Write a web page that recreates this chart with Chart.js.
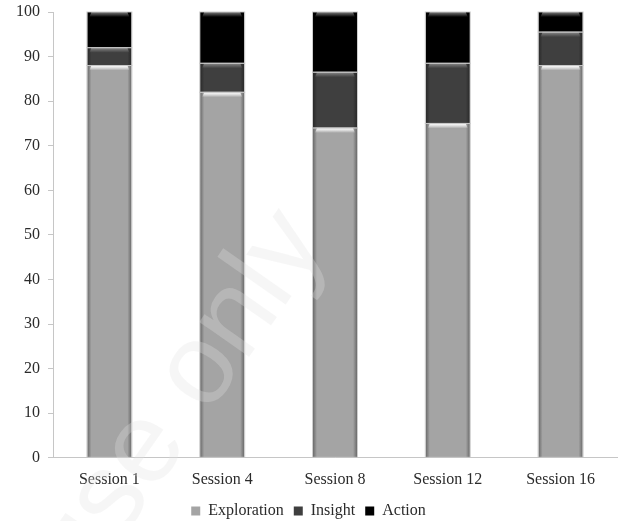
<!DOCTYPE html>
<html>
<head>
<meta charset="utf-8">
<script src="https://cdn.jsdelivr.net/npm/chart.js@4.4.1/dist/chart.umd.min.js"></script>
<style>
  html, body { margin: 0; padding: 0; background: #ffffff; }
  #wrap { width: 620px; height: 521px; position: relative; }
</style>
</head>
<body>
<div id="wrap"><canvas id="c" width="620" height="521"></canvas></div>
<script>
// Categories and stacked shares (percent) per session
const sessions = ['Session 1', 'Session 4', 'Session 8', 'Session 12', 'Session 16'];
const exploration = [88, 82, 74, 75, 88];
const insight = [4, 6.5, 12.5, 13.5, 7.5];
const action = [8, 11.5, 13.5, 11.5, 4.5];
const yTicks = [0, 10, 20, 30, 40, 50, 60, 70, 80, 90, 100];

const SERIF = "'Liberation Serif', 'Times New Roman', serif";
const TEXT = '#2b2b2b';

// Bevel-style shading drawn on top of each bar segment
const bevelPlugin = {
  id: 'bevel',
  afterDatasetsDraw(chart) {
    const ctx = chart.ctx;
    chart.data.datasets.forEach((ds, di) => {
      const meta = chart.getDatasetMeta(di);
      meta.data.forEach(bar => {
        const p = bar.getProps(['x', 'y', 'base', 'width'], true);
        const left = p.x - p.width / 2, right = p.x + p.width / 2;
        const top = Math.min(p.y, p.base), bottom = Math.max(p.y, p.base);
        const h = bottom - top;
        ctx.save();
        // side shading
        let g = ctx.createLinearGradient(left, 0, left + 4, 0);
        g.addColorStop(0, 'rgba(0,0,0,0.35)');
        g.addColorStop(1, 'rgba(0,0,0,0)');
        ctx.fillStyle = g;
        ctx.fillRect(left, top, 4, h);
        g = ctx.createLinearGradient(right - 4, 0, right, 0);
        g.addColorStop(0, 'rgba(0,0,0,0)');
        g.addColorStop(1, 'rgba(0,0,0,0.35)');
        ctx.fillStyle = g;
        ctx.fillRect(right - 4, top, 4, h);
        // top highlight
        const hh = Math.min(5, h);
        g = ctx.createLinearGradient(0, top, 0, top + hh);
        if (di === 0) {
          g.addColorStop(0, 'rgba(255,255,255,1)');
          g.addColorStop(0.5, 'rgba(255,255,255,0.6)');
          g.addColorStop(1, 'rgba(255,255,255,0)');
        } else {
          g.addColorStop(0, 'rgba(150,150,150,0.85)');
          g.addColorStop(1, 'rgba(150,150,150,0)');
        }
        ctx.fillStyle = g;
        ctx.beginPath();
        ctx.moveTo(left + 2, top + hh);
        ctx.lineTo(left + 4, top);
        ctx.lineTo(right - 4, top);
        ctx.lineTo(right - 2, top + hh);
        ctx.closePath();
        ctx.fill();
        // light outline
        ctx.strokeStyle = 'rgba(200,200,200,0.9)';
        ctx.lineWidth = 1;
        ctx.strokeRect(left - 0.5, top, p.width + 1, h);
        ctx.restore();
      });
    });
  }
};

// Faint diagonal watermark text
const watermarkPlugin = {
  id: 'watermark',
  afterDraw(chart) {
    const ctx = chart.ctx;
    ctx.save();
    ctx.translate(180, 400);
    ctx.rotate(-55 * Math.PI / 180);
    ctx.font = "115px 'Liberation Sans', Arial, sans-serif";
    ctx.fillStyle = 'rgba(225,225,225,0.3)';
    ctx.textAlign = 'center';
    ctx.textBaseline = 'middle';
    ctx.fillText('use only', 0, 0);
    ctx.restore();
  }
};

new Chart(document.getElementById('c'), {
  type: 'bar',
  data: {
    labels: sessions,
    datasets: [
      { label: 'Exploration', data: exploration, backgroundColor: '#a4a4a4' },
      { label: 'Insight', data: insight, backgroundColor: '#3f3f3f' },
      { label: 'Action', data: action, backgroundColor: '#000000' }
    ]
  },
  options: {
    responsive: false,
    animation: false,
    devicePixelRatio: 1,
    layout: { padding: { top: 12, right: 3, left: 0, bottom: -8 } },
    datasets: { bar: { categoryPercentage: 1, barPercentage: 0.39, borderWidth: 0 } },
    plugins: {
      tooltip: { enabled: false },
      legend: {
        position: 'bottom',
        labels: {
          font: { family: SERIF, size: 16 },
          color: TEXT,
          boxWidth: 9,
          boxHeight: 9,
          padding: 10
        }
      }
    },
    scales: {
      x: {
        stacked: true,
        grid: { display: false },
        border: { display: true, color: '#c6c6c6', width: 1 },
        ticks: { font: { family: SERIF, size: 16 }, color: TEXT, padding: 4 }
      },
      y: {
        stacked: true,
        min: 0,
        max: 100,
        afterBuildTicks(axis) { axis.ticks = yTicks.map(v => ({ value: v })); },
        afterFit(axis) { axis.width = 53; axis.paddingTop = 0; },
        grid: { display: true, drawOnChartArea: false, drawTicks: true, tickLength: 5, color: '#c6c6c6' },
        border: { display: true, color: '#c6c6c6', width: 1 },
        ticks: { font: { family: SERIF, size: 16 }, color: TEXT, padding: 8 }
      }
    }
  },
  plugins: [bevelPlugin, watermarkPlugin]
});
</script>
</body>
</html>
